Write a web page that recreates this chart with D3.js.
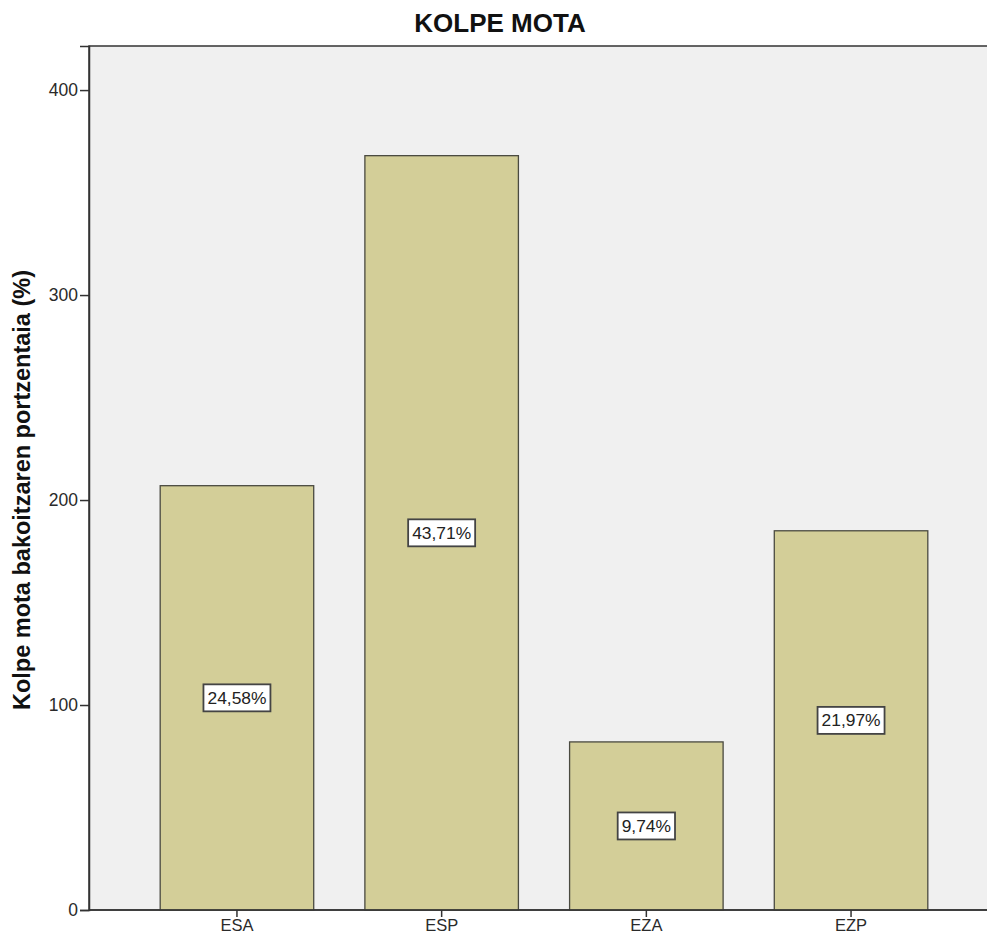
<!DOCTYPE html>
<html><head><meta charset="utf-8">
<script src="https://cdn.jsdelivr.net/npm/d3@7"></script>
<style>html,body{margin:0;padding:0;background:#fff;} svg{display:block;}</style>
</head><body>
<svg id="c" width="987" height="936"></svg>
<script>
const categories = ["ESA", "ESP", "EZA", "EZP"];
const counts = [207, 368, 82, 185];
const pctLabels = ["24,58%", "43,71%", "9,74%", "21,97%"];
const yTicks = [0, 100, 200, 300, 400];

const FONT = "Liberation Sans, Arial, sans-serif";
const svg = d3.select("#c");
const L = 89, T = 46, B = 910, R = 992;
const x = d3.scaleBand().domain(categories).range([134.6, 953.4]).paddingInner(0.25).paddingOuter(0.125);
const y = d3.scaleLinear().domain([0, 421.5]).range([B, T]);

svg.append("rect").attr("x", L).attr("y", T).attr("width", R - L).attr("height", B - T)
  .attr("fill", "#f0f0f0").attr("stroke", "#333").attr("stroke-width", 1.5);

svg.selectAll("rect.bar").data(categories).enter().append("rect").attr("class", "bar")
  .attr("x", d => x(d)).attr("width", x.bandwidth())
  .attr("y", (d, i) => y(counts[i])).attr("height", (d, i) => y(0) - y(counts[i]))
  .attr("fill", "#d3ce98").attr("stroke", "#4a4a40").attr("stroke-width", 1.3);

// y axis
const ya = svg.append("g").attr("transform", `translate(${L},0)`)
  .call(d3.axisLeft(y).tickValues(yTicks).tickSize(9).tickPadding(2).tickFormat(d3.format("d")));
ya.select(".domain").attr("stroke", "#333").attr("stroke-width", 1.5);
ya.selectAll(".tick line").attr("stroke", "#333").attr("stroke-width", 1.5);
ya.selectAll("text").attr("font-family", FONT).attr("font-size", 17.5).attr("fill", "#2a2a2a");

// x axis
const xa = svg.append("g").attr("transform", `translate(0,${B})`)
  .call(d3.axisBottom(x).tickSize(7).tickPadding(0));
xa.select(".domain").remove();
svg.append("line").attr("x1", L).attr("x2", R).attr("y1", B).attr("y2", B).attr("stroke", "#333").attr("stroke-width", 1.5);
xa.selectAll(".tick line").attr("stroke", "#333").attr("stroke-width", 1.5);
xa.selectAll("text").attr("font-family", FONT).attr("font-size", 16.5).attr("fill", "#2a2a2a")
  .attr("dy", null).attr("y", 21);

// value labels
const lab = svg.selectAll("g.lab").data(categories).enter().append("g").attr("class", "lab")
  .attr("transform", (d, i) => `translate(${x(d) + x.bandwidth() / 2},${y(counts[i] / 2)})`);
lab.append("text").text((d, i) => pctLabels[i])
  .attr("text-anchor", "middle").attr("dy", "0.35em")
  .attr("font-family", FONT).attr("font-size", 17.4).attr("fill", "#222");
lab.each(function () {
  const g = d3.select(this);
  const bb = g.select("text").node().getBBox();
  g.insert("rect", "text").attr("x", bb.x - 4).attr("y", -13.5).attr("width", bb.width + 8).attr("height", 27)
    .attr("fill", "#fff").attr("stroke", "#444").attr("stroke-width", 1.8);
});

// title
svg.append("text").attr("x", 500).attr("y", 32).attr("text-anchor", "middle")
  .attr("font-family", FONT).attr("font-size", 26).attr("font-weight", "bold").attr("fill", "#111")
  .text("KOLPE MOTA");
// y title
svg.append("text").attr("transform", "translate(30,490) rotate(-90)").attr("text-anchor", "middle")
  .attr("font-family", FONT).attr("font-size", 23.5).attr("font-weight", "bold").attr("fill", "#111")
  .text("Kolpe mota bakoitzaren portzentaia (%)");
</script>
</body></html>
